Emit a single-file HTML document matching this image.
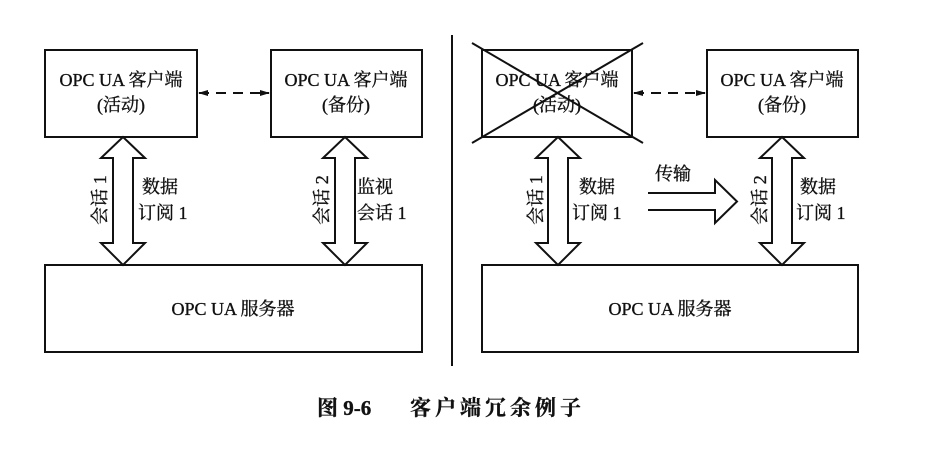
<!DOCTYPE html>
<html><head><meta charset="utf-8"><style>
html,body{margin:0;padding:0;background:#fff;}
svg{display:block;}
text{font-family:"Liberation Serif","Noto Serif CJK SC","Noto Sans CJK SC",serif;fill:#111;stroke:#111;stroke-width:0.35;}
</style></head><body>
<svg width="947" height="455" viewBox="0 0 947 455" xmlns="http://www.w3.org/2000/svg">
<defs>
<marker id="ah" markerWidth="10" markerHeight="8" refX="9" refY="4" orient="auto-start-reverse" markerUnits="userSpaceOnUse">
<path d="M0,1 L10,4 L0,7 z" fill="#111"/></marker>
</defs>
<g stroke="#111" stroke-width="2" fill="none">
<rect x="45" y="50" width="152" height="87"/>
<rect x="271" y="50" width="151" height="87"/>
<rect x="45" y="265" width="377" height="87"/>
<rect x="482" y="50" width="150" height="87"/>
<rect x="707" y="50" width="151" height="87"/>
<rect x="482" y="265" width="376" height="87"/>
<line x1="472" y1="43" x2="643" y2="143"/>
<line x1="472" y1="143" x2="643" y2="43"/>
<line x1="452" y1="35" x2="452" y2="366"/>
</g>
<g stroke="#111" stroke-width="2" stroke-dasharray="10,7" fill="none">
<line x1="199" y1="93" x2="269" y2="93" marker-start="url(#ah)" marker-end="url(#ah)"/>
<line x1="634" y1="93" x2="705" y2="93" marker-start="url(#ah)" marker-end="url(#ah)"/>
</g>
<g stroke="#111" stroke-width="2" fill="#fff" stroke-linejoin="miter">
<path d="M123,137 L145,158 L133,158 L133,243 L145,243 L123,265 L101,243 L113,243 L113,158 L101,158 Z"/>
<path d="M345,137 L367,158 L355,158 L355,243 L367,243 L345,265 L323,243 L335,243 L335,158 L323,158 Z"/>
<path d="M558,137 L580,158 L568,158 L568,243 L580,243 L558,265 L536,243 L548,243 L548,158 L536,158 Z"/>
<path d="M782,137 L804,158 L792,158 L792,243 L804,243 L782,265 L760,243 L772,243 L772,158 L760,158 Z"/>
<path d="M648,193 L715,193 L715,180 L737,201.5 L715,223 L715,210 L648,210"/>
</g>
<g font-size="18" text-anchor="middle">
<text x="121" y="86">OPC UA 客户端</text><text x="121" y="111">(活动)</text>
<text x="346" y="86">OPC UA 客户端</text><text x="346" y="111">(备份)</text>
<text x="557" y="86">OPC UA 客户端</text><text x="557" y="111">(活动)</text>
<text x="782" y="86">OPC UA 客户端</text><text x="782" y="111">(备份)</text>
<text x="233" y="315">OPC UA 服务器</text>
<text x="670" y="315">OPC UA 服务器</text>
</g>
<g font-size="18">
<text x="142" y="193">数据</text><text x="138" y="219">订阅 1</text>
<text x="357" y="193">监视</text><text x="357" y="219">会话 1</text>
<text x="579" y="193">数据</text><text x="572" y="219">订阅 1</text>
<text x="800" y="193">数据</text><text x="796" y="219">订阅 1</text>
<text x="655" y="180">传输</text>
<text transform="translate(106,200) rotate(-90)" text-anchor="middle">会话 1</text>
<text transform="translate(328,200) rotate(-90)" text-anchor="middle">会话 2</text>
<text transform="translate(542,200) rotate(-90)" text-anchor="middle">会话 1</text>
<text transform="translate(766,200) rotate(-90)" text-anchor="middle">会话 2</text>
</g>
<text x="317" y="415" font-size="21" font-weight="bold" font-family="'Liberation Sans','Noto Sans CJK SC',sans-serif">图 9-6</text>
<text x="410" y="415" font-size="21" font-weight="bold" font-family="'Liberation Sans','Noto Sans CJK SC',sans-serif" letter-spacing="4">客户端冗余例子</text>
</svg>
</body></html>
